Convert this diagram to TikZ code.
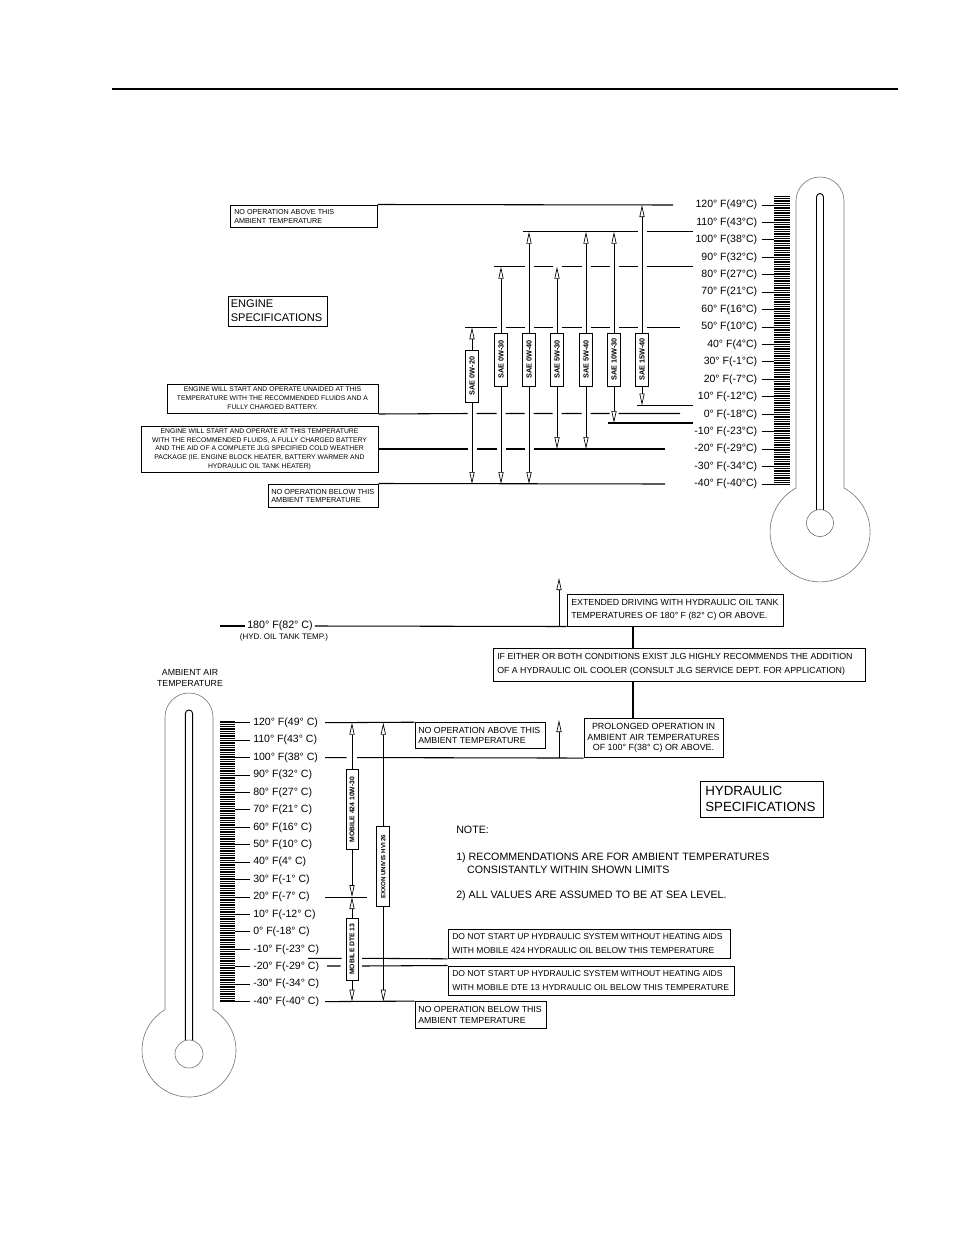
\documentclass[tikz,border=0pt]{standalone}
\usepackage{fontspec}
\setmainfont{Liberation Sans}
\usetikzlibrary{arrows.meta,fit}
\newcommand\dg{°}
\newcommand\fsz[2]{\fontsize{#1pt}{#2pt}\selectfont}
\begin{document}
\begin{tikzpicture}[x=0.75pt,y=-0.75pt,
  rulel/.style={line width=1pt},
  hl/.style={line width=0.8pt},
  bx/.style={draw,line width=0.75pt,inner sep=0pt},
  oil/.style={draw,line width=0.75pt,inner sep=0pt,minimum width=9.75pt},
  oiltxt/.style={rotate=90,inner sep=0pt,font=\bfseries\fsz{5.5}{6}},
  hoiltxt/.style={rotate=90,inner sep=0pt,font=\bfseries\fsz{5.1}{6}},
  arw/.style={line width=0.6pt,-{Triangle[open,length=9pt,width=3.8pt,line width=0.5pt]}},
  tout/.style={draw=black!55,line width=0.45pt},
  tin/.style={draw=black,line width=0.7pt},
  tk/.style={line width=0.35pt},
  elab/.style={font=\fsz{7.9}{9},inner sep=0pt,anchor=east},
  hlab/.style={font=\fsz{7.9}{9},inner sep=0pt,anchor=west},
  txt/.style={inner sep=0pt,align=left,anchor=west},
  ctxt/.style={inner sep=0pt,align=center},
]
\useasboundingbox (0,0) rectangle (954,1235);

\draw[rulel] (112,89) -- (898,89);

% ---------------- engine thermometer ----------------
\draw[tout] (796,488) -- (796,201) arc[start angle=180,end angle=360,radius=24] -- (844,488) arc[start angle=-61.4,end angle=241.4,radius=50];
\draw[tin] (816.5,510) -- (816.5,197) arc[start angle=180,end angle=360,radius=3.5] -- (823.5,510);
\draw[tout] (820,523) circle[radius=13.5];
\foreach \k in {0,...,165} \draw[tk] (774,{196.3+\k*1.7425}) -- (790,{196.3+\k*1.7425});
\foreach \txt [count=\i from 0] in {{120\dg\ F(49\dg C)},{110\dg\ F(43\dg C)},{100\dg\ F(38\dg C)},{90\dg\ F(32\dg C)},{80\dg\ F(27\dg C)},{70\dg\ F(21\dg C)},{60\dg\ F(16\dg C)},{50\dg\ F(10\dg C)},{40\dg\ F(4\dg C)},{30\dg\ F(-1\dg C)},{20\dg\ F(-7\dg C)},{10\dg\ F(-12\dg C)},{0\dg\ F(-18\dg C)},{-10\dg\ F(-23\dg C)},{-20\dg\ F(-29\dg C)},{-30\dg\ F(-34\dg C)},{-40\dg\ F(-40\dg C)}}
{
  \node[elab] (et\i) at (757.5,{205+17.44*\i}) {\txt};
  \draw[line width=0.7pt] ([xshift=3pt]et\i.east) -- (774,{205+17.44*\i});
}

% ---------------- engine boxes ----------------
\node[bx,fit={(230,205)(377,227)}] (eNOA) {};
\node[txt,font=\fsz{5.4}{6.75}] (eNOAt) at (234,216.5) {NO OPERATION ABOVE THIS\\AMBIENT TEMPERATURE};
\node[bx,fit={(228,296)(327,326)}] (eSP) {};
\node[txt,font=\fsz{8.3}{10.5}] (eSPt) at (230.5,311) {ENGINE\\SPECIFICATIONS};
\node[bx,fit={(167,384)(378,413.5)}] (eUN) {};
\node[ctxt,font=\fsz{5.1}{6.75}] (eUNt) at (272.5,398.5) {ENGINE WILL START AND OPERATE UNAIDED AT THIS\\TEMPERATURE WITH THE RECOMMENDED FLUIDS AND A\\FULLY CHARGED BATTERY.};
\node[bx,fit={(141,426)(378,472)}] (eCW) {};
\node[ctxt,font=\fsz{5.1}{6.5}] (eCWt) at (259.5,449.2) {ENGINE WILL START AND OPERATE AT THIS TEMPERATURE\\WITH THE RECOMMENDED FLUIDS, A FULLY CHARGED BATTERY\\AND THE AID OF A COMPLETE JLG SPECIFIED COLD WEATHER\\PACKAGE (IE. ENGINE BLOCK HEATER, BATTERY WARMER AND\\HYDRAULIC OIL TANK HEATER)};
\node[bx,fit={(268,484)(378,507)}] (eNOB) {};
\node[txt,font=\fsz{5.5}{5.8}] (eNOBt) at (271,496) {NO OPERATION BELOW THIS\\AMBIENT TEMPERATURE};

% ---------------- engine limit lines ----------------
\draw[hl] (eNOA.north east) -- (673,205);
\draw[hl] (523,231.7) -- (637.5,231.7) (646.5,231.7) -- (693,231.7);
\draw[hl] (494,266.7) -- (524.5,266.7) (533.5,266.7) -- (552.5,266.7) (561.5,266.7) -- (581.5,266.7) (590.5,266.7) -- (609.5,266.7) (618.5,266.7) -- (637.5,266.7) (646.5,266.7) -- (693,266.7);
\draw[hl] (465,327.3) -- (496.5,327.3) (505.5,327.3) -- (524.5,327.3) (533.5,327.3) -- (552.5,327.3) (561.5,327.3) -- (581.5,327.3) (590.5,327.3) -- (609.5,327.3) (618.5,327.3) -- (637.5,327.3) (646.5,327.3) -- (680,327.3);
\draw[hl] (637,405.5) -- (693,405.5);
\draw[hl] (eUN.south east) -- (467.5,413.5) (476.5,413.5) -- (496.5,413.5) (505.5,413.5) -- (524.5,413.5) (533.5,413.5) -- (552.5,413.5) (561.5,413.5) -- (581.5,413.5) (590.5,413.5) -- (609.5,413.5) (618.5,413.5) -- (680,413.5);
\draw[hl] (608,423) -- (693,423);
\draw[hl] (eCW.east) -- (467.5,449) (476.5,449) -- (496.5,449) (505.5,449) -- (524.5,449) (533.5,449) -- (665,449);
\draw[hl] (eNOB.north east) -- (665,484);

% ---------------- engine oils ----------------
\foreach \n/\x/\ytop/\ybot/\ta/\tb/\lab in {1/472/350/402/327.3/484/{SAE 0W-20},2/501/333/386/266.7/484/{SAE 0W-30},3/529/333/386/231.7/484/{SAE 0W-40},4/557/333/386/266.7/449/{SAE 5W-30},5/586/333/386/231.7/449/{SAE 5W-40},6/614/333/386/231.7/423/{SAE 10W-30},7/642/333/386/205/405.5/{SAE 15W-40}}
{
  \node[oil,minimum height={(\ybot-\ytop)*0.75pt}] (s\n) at (\x,{(\ytop+\ybot)/2}) {};
  \node[oiltxt] (sl\n) at (s\n.center) {\lab};
  \coordinate (st\n) at (\x,\ta);
  \coordinate (sb\n) at (\x,\tb);
  \draw[arw] (s\n.north) -- (st\n);
  \draw[arw] (s\n.south) -- (sb\n);
}

% ---------------- hydraulic thermometer ----------------
\draw[tout] (165,1009.6) -- (165,717) arc[start angle=180,end angle=360,radius=24] -- (213,1009.6) arc[start angle=-59.3,end angle=239.3,radius=47];
\draw[tin] (185.3,1040.5) -- (185.3,713.7) arc[start angle=180,end angle=360,radius=3.7] -- (192.7,1040.5);
\draw[tout] (189,1054) circle[radius=14];
\foreach \k in {0,...,161} \draw[tk] (220,{720.96+\k*1.743}) -- (235,{720.96+\k*1.743});
\foreach \txt [count=\i from 0] in {{120\dg\ F(49\dg\ C)},{110\dg\ F(43\dg\ C)},{100\dg\ F(38\dg\ C)},{90\dg\ F(32\dg\ C)},{80\dg\ F(27\dg\ C)},{70\dg\ F(21\dg\ C)},{60\dg\ F(16\dg\ C)},{50\dg\ F(10\dg\ C)},{40\dg\ F(4\dg\ C)},{30\dg\ F(-1\dg\ C)},{20\dg\ F(-7\dg\ C)},{10\dg\ F(-12\dg\ C)},{0\dg\ F(-18\dg\ C)},{-10\dg\ F(-23\dg\ C)},{-20\dg\ F(-29\dg\ C)},{-30\dg\ F(-34\dg\ C)},{-40\dg\ F(-40\dg\ C)}}
{
  \node[hlab] (ht\i) at (253,{722.7+17.43*\i}) {\txt};
  \draw[line width=0.7pt] (235,{722.7+17.43*\i}) -- ([xshift=-2.25pt]ht\i.west);
}
\node[ctxt,font=\fsz{6.6}{8.25}] (amb) at (190,678.5) {AMBIENT AIR\\TEMPERATURE};

% ---------------- hydraulic upper notes ----------------
\node[bx,fit={(567,594)(783,626)}] (ext) {};
\node[txt,font=\fsz{6.6}{9.75}] (extt) at (571,610) {EXTENDED DRIVING WITH HYDRAULIC OIL TANK\\TEMPERATURES OF 180° F (82° C) OR ABOVE.};
\node[font=\fsz{8}{9},inner sep=0pt] (t180) at (280,626) {180\dg\ F(82\dg\ C)};
\node[ctxt,font=\fsz{6}{7}] (thyd) at (284,637.5) {(HYD. OIL TANK TEMP.)};
\draw[hl] (220,626) -- ([xshift=-1.5pt]t180.west);
\draw[hl] ([xshift=1.5pt]t180.east) -- (ext.south west);
\coordinate (a180b) at (559,626);
\coordinate (a180t) at (559,578);
\draw[arw] (a180b) -- (a180t);

\node[bx,fit={(493,648)(865,681)}] (ife) {};
\node[txt,font=\fsz{6.6}{10.5}] (ifet) at (497,664.5) {IF EITHER OR BOTH CONDITIONS EXIST JLG HIGHLY RECOMMENDS THE ADDITION\\OF A HYDRAULIC OIL COOLER (CONSULT JLG SERVICE DEPT. FOR APPLICATION)};
\node[bx,fit={(584,718)(723,757.56)}] (pro) {};
\node[ctxt,font=\fsz{6.7}{7.9}] (prot) at (653.5,738) {PROLONGED OPERATION IN\\AMBIENT AIR TEMPERATURES\\OF 100° F(38° C) OR ABOVE.};
\coordinate (cx) at (633,0);
\draw[hl] (ext.south -| cx) -- (ife.north -| cx);
\draw[hl] (ife.south -| cx) -- (pro.north -| cx);
\coordinate (a100b) at (559,757.56);
\coordinate (a100t) at (559,720);
\draw[arw] (a100b) -- (a100t);

\node[bx,fit={(700,781)(823,817)}] (hsp) {};
\node[txt,font=\fsz{10}{12}] (hspt) at (705,799) {HYDRAULIC\\SPECIFICATIONS};

\node[txt,font=\fsz{8}{9.75}] (note0) at (456,830) {NOTE:};
\node[txt,font=\fsz{8}{9.75}] (note1) at (456,863.5) {1) RECOMMENDATIONS ARE FOR AMBIENT TEMPERATURES\\\hspace*{8.2pt}CONSISTANTLY WITHIN SHOWN LIMITS};
\node[txt,font=\fsz{8}{9.75}] (note2) at (456,896) {2) ALL VALUES ARE ASSUMED TO BE AT SEA LEVEL.};

% ---------------- hydraulic limits ----------------
\node[bx,fit={(415,722.7)(545,748.5)}] (hNOA) {};
\node[txt,font=\fsz{6.6}{7.75}] (hNOAt) at (418,735.6) {NO OPERATION ABOVE THIS\\AMBIENT TEMPERATURE};
\draw[hl] (325,722.7) -- (hNOA.north west);
\draw[hl] (325,757.56) -- (346.5,757.56) (357,757.56) -- (pro.south west);
\draw[hl] (325,897.1) -- (367,897.1);
\node[bx,fit={(448,929)(730,958.3)}] (do1) {};
\node[txt,font=\fsz{6.4}{10}] (do1t) at (452,943.6) {DO NOT START UP HYDRAULIC SYSTEM WITHOUT HEATING AIDS\\WITH MOBILE 424 HYDRAULIC OIL BELOW THIS TEMPERATURE};
\draw[hl] (308,958.3) -- (341.5,958.3) (362,958.3) -- (do1.south west);
\node[bx,fit={(448,966)(734,995)}] (do2) {};
\node[txt,font=\fsz{6.4}{10}] (do2t) at (452,980.5) {DO NOT START UP HYDRAULIC SYSTEM WITHOUT HEATING AIDS\\WITH MOBILE DTE 13 HYDRAULIC OIL BELOW THIS TEMPERATURE};
\draw[hl] (327,966) -- (340.5,966) (362,966) -- (do2.north west);
\node[bx,fit={(415,1001.6)(546,1028.5)}] (hNOB) {};
\node[txt,font=\fsz{6.6}{7.75}] (hNOBt) at (418,1015) {NO OPERATION BELOW THIS\\AMBIENT TEMPERATURE};
\draw[hl] (325,1001.6) -- (hNOB.north west);

% ---------------- hydraulic oils ----------------
\node[oil,minimum width=9pt,minimum height=60.5pt] (m424) at (352,809.65) {};
\node[hoiltxt] (m424l) at (m424.center) {MOBILE 424 10W-30};
\node[oil,minimum width=9pt,minimum height=46.3pt] (dte) at (352,949.15) {};
\node[hoiltxt] (dtel) at (dte.center) {MOBILE DTE 13};
\node[oil,minimum width=10pt,minimum height=60pt] (exx) at (383.3,866.7) {};
\node[hoiltxt,font=\bfseries\fsz{4.6}{6}] (exxl) at (exx.center) {EXXON UNIVIS HVI 26};
\coordinate (m424t) at (352,722.7);
\coordinate (m424b) at (352,897.1);
\coordinate (dtet) at (352,897.1);
\coordinate (dteb) at (352,1001.6);
\coordinate (exxt) at (383.3,722.7);
\coordinate (exxb) at (383.3,1001.6);
\draw[arw] (m424.north) -- (m424t);
\draw[arw] (m424.south) -- (m424b);
\draw[arw] (dte.north) -- (dtet);
\draw[arw] (dte.south) -- (dteb);
\draw[arw] (exx.north) -- (exxt);
\draw[arw] (exx.south) -- (exxb);
\end{tikzpicture}
\end{document}
